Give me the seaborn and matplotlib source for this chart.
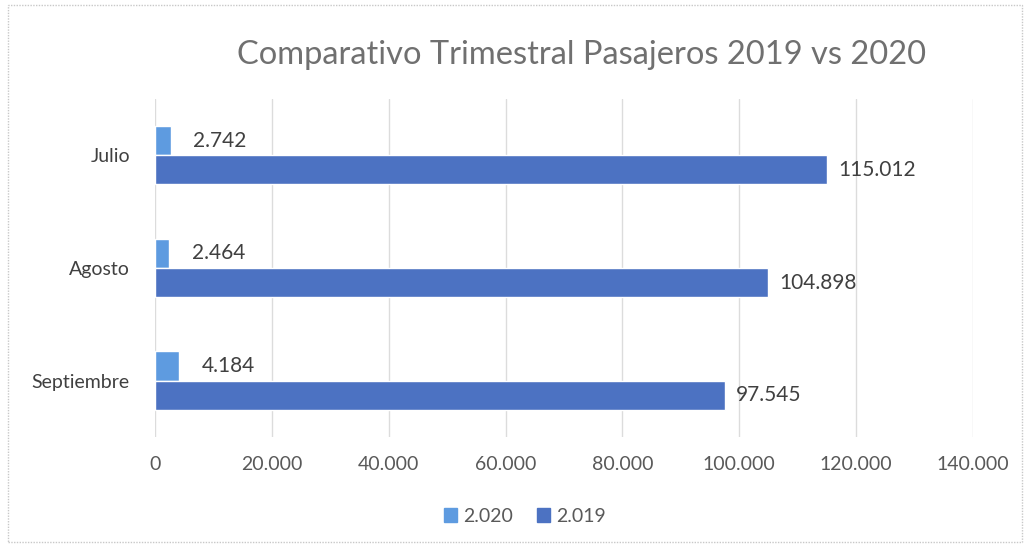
import matplotlib
matplotlib.use("Agg")
import matplotlib.pyplot as plt
import seaborn as sns
import pandas as pd
from matplotlib.patches import Rectangle
from matplotlib.ticker import FuncFormatter

months = ["Julio", "Agosto", "Septiembre"]
pasajeros_2020 = [2742, 2464, 4184]
pasajeros_2019 = [115012, 104898, 97545]
series = ["2.020", "2.019"]
x_ticks = [0, 20000, 40000, 60000, 80000, 100000, 120000, 140000]

df = pd.DataFrame({
    "Mes": months * 2,
    "Serie": [series[0]] * 3 + [series[1]] * 3,
    "Pasajeros": pasajeros_2020 + pasajeros_2019,
})

sns.set_theme(style="white")
plt.rcParams["font.family"] = ["Lato", "DejaVu Sans"]

def fmt(v):
    return f"{int(v):,}".replace(",", ".")

fig = plt.figure(figsize=(10.29, 5.49), dpi=100)
ax = fig.add_axes([0.1506, 0.204, 0.795, 0.616])

palette = {"2.020": "#5e9be0", "2.019": "#4c72c2"}
sns.barplot(data=df, y="Mes", x="Pasajeros", hue="Serie", hue_order=series,
            order=months, orient="h", palette=palette, width=0.52, gap=0,
            saturation=1, ax=ax)

ax.set_xlim(0, 140000)
ax.set_xticks(x_ticks)
ax.xaxis.set_major_formatter(FuncFormatter(lambda v, p: fmt(v)))
ax.grid(axis="x", color="#dcdcdc", linewidth=1)
ax.set_axisbelow(True)
for s in ax.spines.values():
    s.set_visible(False)
ax.set_xlabel("")
ax.set_ylabel("")
ax.tick_params(axis="x", colors="#595959", labelsize=14, length=0, pad=14)
ax.tick_params(axis="y", colors="#404040", labelsize=14, length=0, pad=18)

pads = [16, 8]
for cont, pad in zip(ax.containers, pads):
    ax.bar_label(cont, labels=[fmt(v) for v in cont.datavalues], padding=pad,
                 fontsize=15, color="#404040")

ax.legend_.remove()
handles = [Rectangle((0, 0), 1, 1, color=palette[s]) for s in series]
fig.legend(handles, series, loc="center", bbox_to_anchor=(0.51, 0.06), ncol=2,
           frameon=False, fontsize=14, handlelength=0.7, handleheight=0.7,
           handletextpad=0.3, columnspacing=1.2, labelcolor="#595959")

fig.text(0.565, 0.90, "Comparativo Trimestral Pasajeros 2019 vs 2020",
         ha="center", va="center", fontsize=23.5, color="#707070")

fig.patches.append(Rectangle((0.008, 0.012), 0.985, 0.978, transform=fig.transFigure,
                             fill=False, edgecolor="#c8c8c8", linewidth=1,
                             linestyle=(0, (1, 1))))

fig.savefig("out.png", dpi=100)
